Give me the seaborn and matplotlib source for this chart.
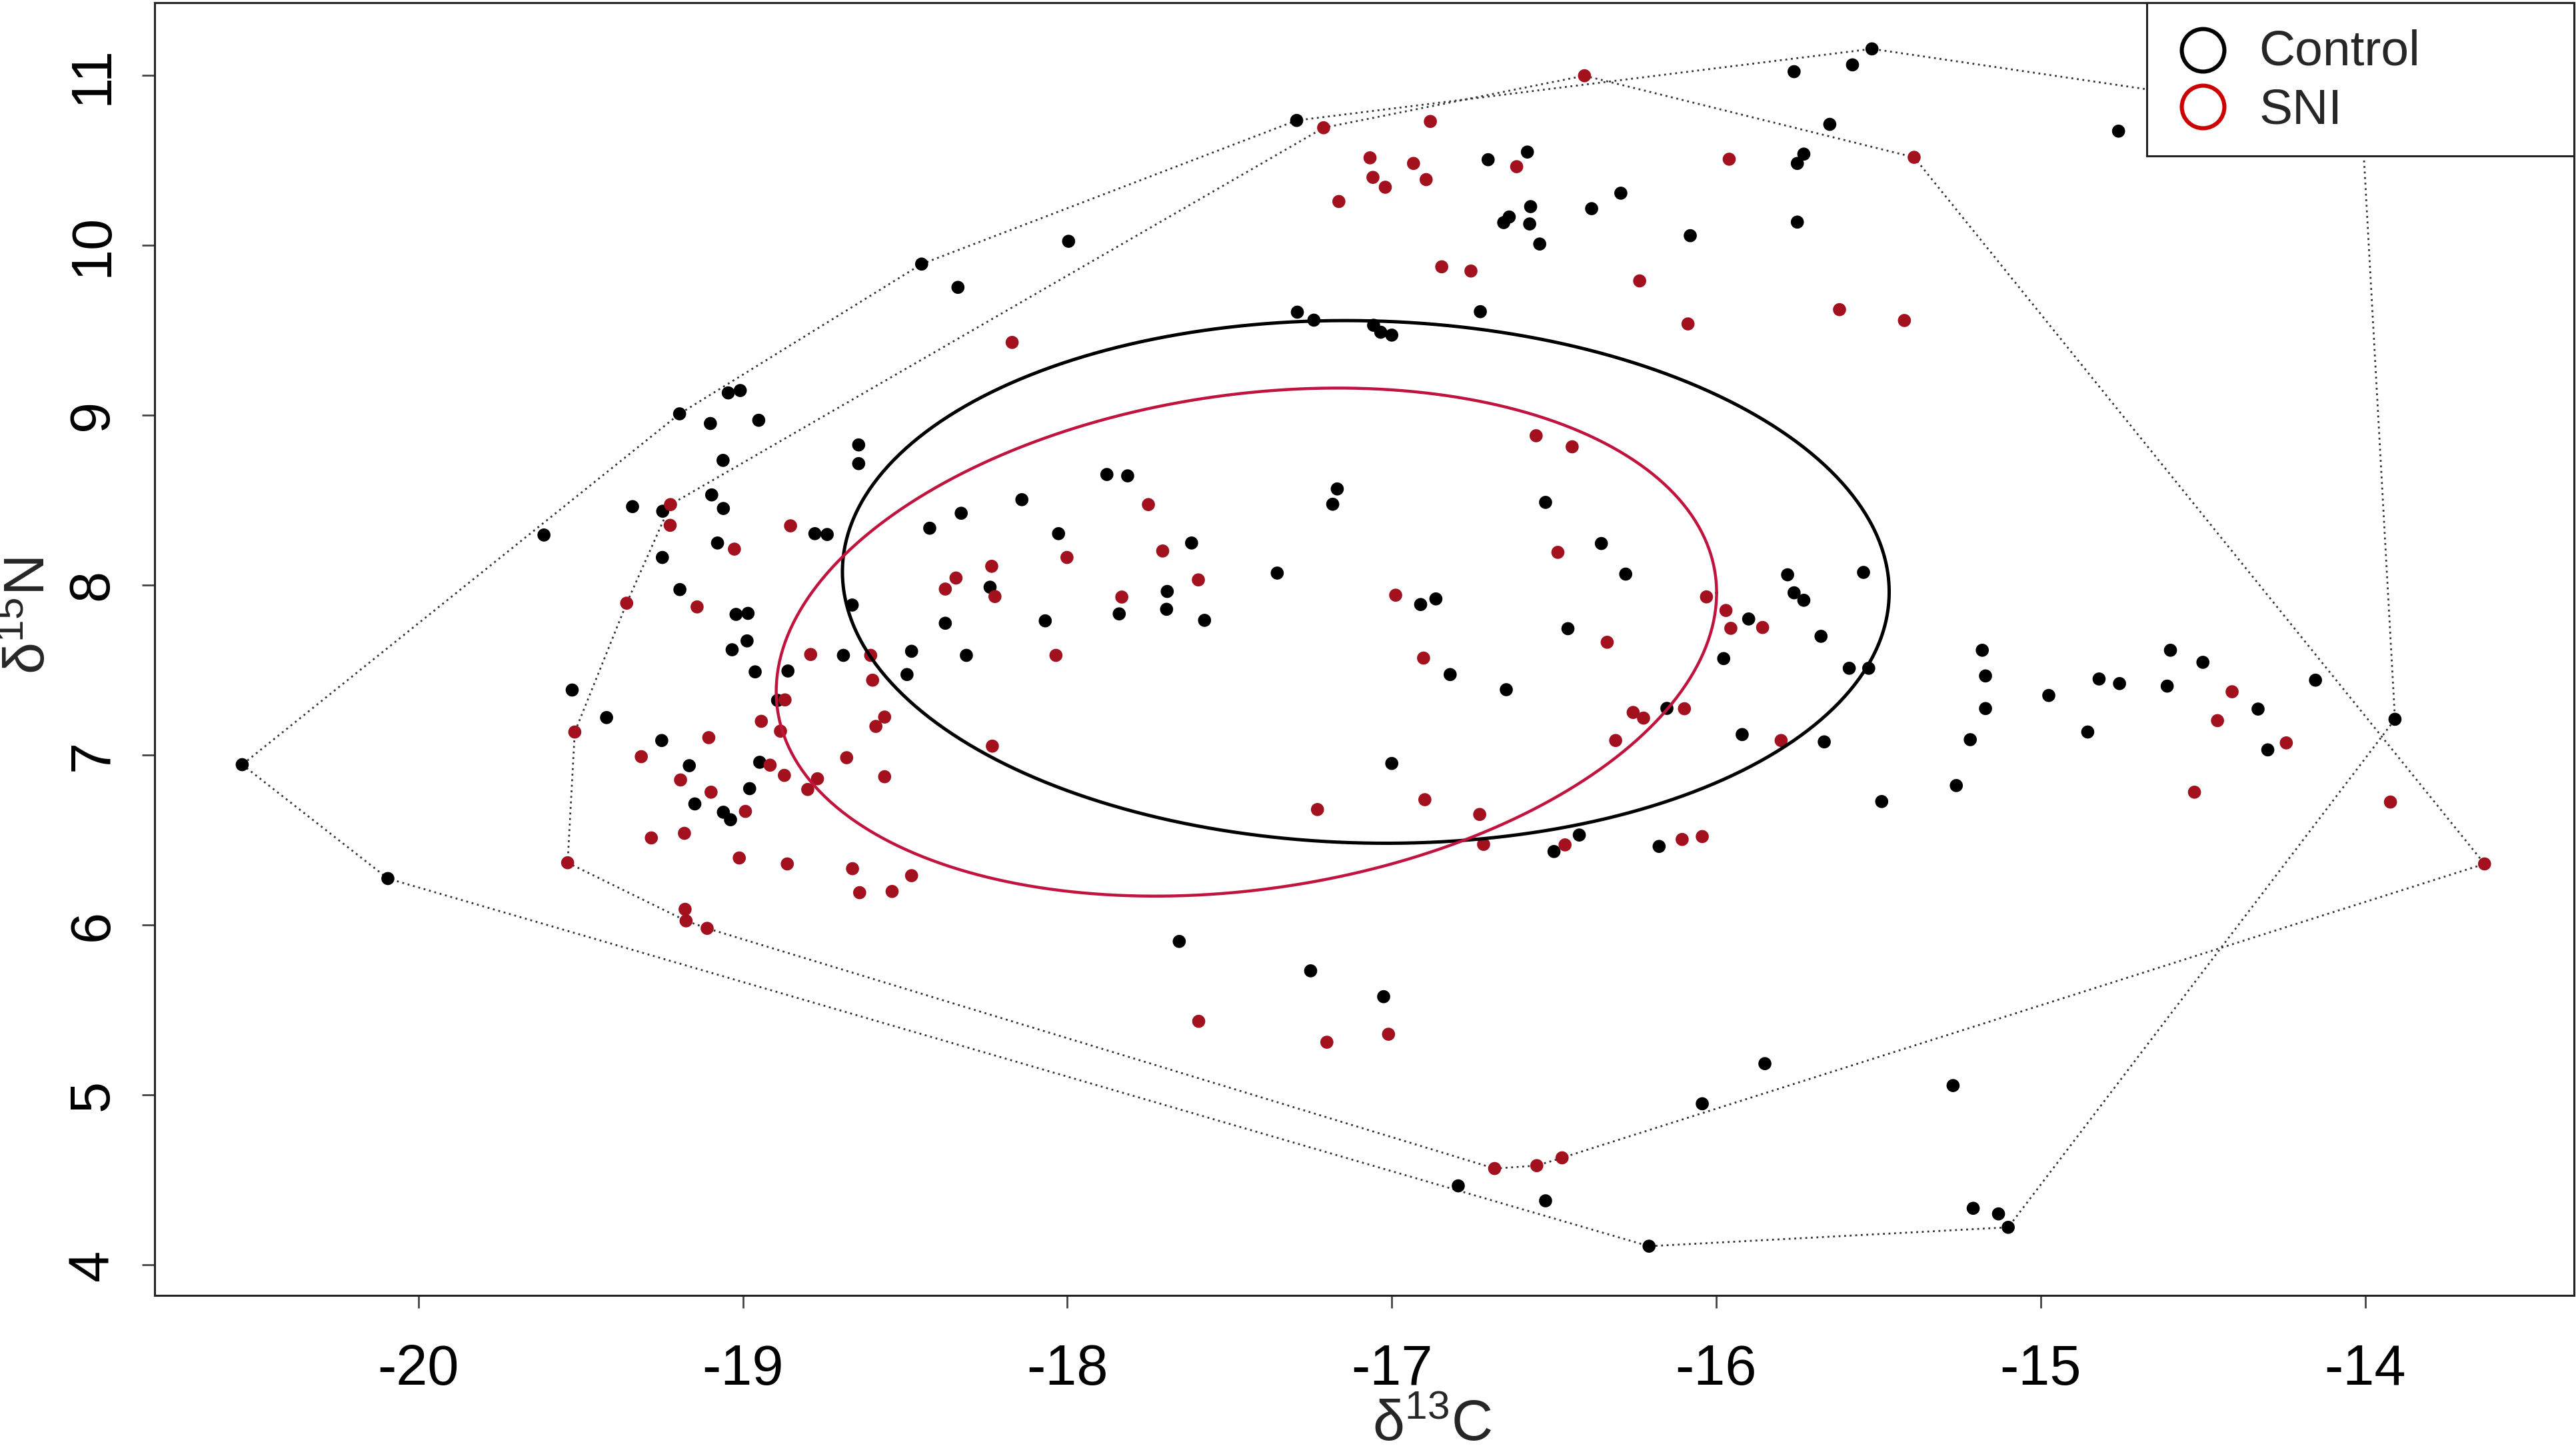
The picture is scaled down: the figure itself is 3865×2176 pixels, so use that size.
import numpy as np
import pandas as pd
import matplotlib
matplotlib.use("Agg")
import matplotlib.pyplot as plt
import seaborn as sns
from matplotlib.patches import Rectangle

# ---------------- data ----------------
control_d13C = [
    -15.52, -15.58, -15.76, -15.65, -15.73, -15.75, -15.75, -14.76, -15.546, -15.78,
    -15.76, -15.73, -15.90, -15.677, -15.977, -15.59, -15.53, -15.18, -15.17, -15.17,
    -14.975, -14.82, -14.757, -14.60, -14.61, -14.50, -14.153, -14.33, -13.908, -14.30,
    -14.855, -15.217, -15.26, -15.49, -15.667, -15.92, -15.85, -15.27, -16.043, -15.208,
    -15.13, -15.10, -18.494, -16.82, -16.647, -16.152, -17.0, -16.422, -16.5, -16.176,
    -17.655, -17.25, -17.025, -16.795, -16.526, -16.207, -20.543, -20.094, -19.526, -19.42,
    -19.25, -19.165, -19.148, -19.06, -19.038, -18.979, -18.948, -18.893, -18.962, -18.861,
    -19.613, -19.195, -19.045, -19.008, -19.10, -18.951, -19.061, -19.096, -19.06, -19.34,
    -19.247, -19.078, -19.248, -18.778, -18.74, -18.643, -18.643, -19.194, -19.021, -18.984,
    -18.987, -19.033, -18.69, -18.663, -17.293, -16.703, -16.582, -16.294, -16.572, -16.384,
    -16.638, -16.655, -16.575, -16.544, -16.08, -17.996, -18.449, -18.337, -16.727, -17.291,
    -17.24, -17.056, -17.034, -17.0, -17.878, -17.814, -17.168, -17.182, -18.14, -18.327,
    -18.424, -18.027, -17.617, -18.238, -17.692, -17.694, -17.84, -17.577, -18.068, -18.376,
    -17.353, -16.911, -16.864, -16.526, -16.354, -16.279, -16.457, -18.48, -18.311, -14.01,
]
control_d15N = [
    11.154, 11.06, 11.02, 10.71, 10.535, 10.48, 10.135, 10.67, 8.074, 8.06,
    7.954, 7.91, 7.80, 7.698, 7.567, 7.51, 7.51, 7.616, 7.465, 7.273,
    7.35, 7.447, 7.42, 7.616, 7.405, 7.545, 7.44, 7.27, 7.21, 7.03,
    7.135, 7.09, 6.82, 6.726, 7.077, 7.12, 5.184, 5.055, 4.948, 4.333,
    4.30, 4.221, 7.473, 7.473, 7.384, 7.274, 6.95, 6.529, 6.432, 6.462,
    5.903, 5.73, 5.578, 4.465, 4.377, 4.11, 6.943, 6.273, 7.382, 7.22,
    7.085, 6.937, 6.712, 6.663, 6.619, 6.802, 6.957, 7.321, 7.489, 7.494,
    8.294, 9.007, 9.13, 9.144, 8.95, 8.969, 8.733, 8.53, 8.45, 8.461,
    8.434, 8.247, 8.162, 8.302, 8.297, 8.824, 8.714, 7.973, 7.827, 7.833,
    7.671, 7.619, 7.586, 7.882, 10.733, 10.502, 10.547, 10.305, 10.226, 10.214,
    10.165, 10.132, 10.124, 10.006, 10.055, 10.022, 9.888, 9.751, 9.608, 9.605,
    9.558, 9.528, 9.487, 9.47, 8.65, 8.642, 8.565, 8.475, 8.502, 8.422,
    8.334, 8.302, 8.247, 7.987, 7.962, 7.857, 7.83, 7.792, 7.789, 7.775,
    8.07, 7.885, 7.918, 8.486, 8.244, 8.064, 7.743, 7.61, 7.586, 10.73,
]
sni_d13C = [
    -15.96, -15.39, -15.62, -15.42, -16.03, -15.97, -15.955, -15.857, -14.41, -14.455,
    -14.243, -14.526, -13.922, -13.632, -15.80, -16.043, -18.60, -18.563, -18.59, -18.68,
    -18.563, -18.231, -18.662, -18.64, -18.54, -18.48, -16.256, -16.224, -16.098, -16.31,
    -16.898, -16.729, -17.229, -16.717, -16.466, -16.105, -17.595, -17.20, -17.01, -16.683,
    -16.553, -16.475, -19.518, -19.54, -19.313, -19.105, -19.192, -19.098, -18.992, -18.916,
    -18.872, -18.80, -18.77, -18.884, -18.943, -18.87, -19.282, -19.18, -19.011, -18.863,
    -19.178, -19.175, -19.11, -19.223, -19.224, -19.026, -18.853, -19.358, -19.141, -18.791,
    -16.406, -17.21, -16.881, -16.615, -17.067, -16.933, -17.058, -16.894, -17.02, -17.163,
    -16.846, -16.756, -16.236, -16.087, -18.17, -17.75, -18.001, -17.706, -18.233, -18.343,
    -18.376, -18.223, -17.596, -17.832, -16.988, -16.555, -16.444, -16.488, -16.336, -16.902,
    -18.606, -18.035,
]
sni_d15N = [
    10.505, 10.516, 9.62, 9.556, 7.93, 7.85, 7.745, 7.75, 7.372, 7.202,
    7.071, 6.781, 6.723, 6.359, 7.085, 6.52, 7.44, 7.223, 7.168, 6.984,
    6.872, 7.052, 6.331, 6.19, 6.197, 6.29, 7.25, 7.217, 7.272, 7.085,
    6.737, 6.65, 6.679, 6.474, 6.471, 6.503, 5.433, 5.31, 5.357, 4.567,
    4.584, 4.63, 7.135, 6.366, 6.99, 7.102, 6.853, 6.781, 6.668, 6.94,
    6.88, 6.797, 6.86, 7.14, 7.198, 7.324, 6.512, 6.539, 6.394, 6.359,
    6.092, 6.024, 5.98, 8.473, 8.351, 8.211, 8.348, 7.893, 7.871, 7.591,
    10.996, 10.69, 10.727, 10.461, 10.513, 10.48, 10.398, 10.385, 10.34, 10.256,
    9.872, 9.847, 9.789, 9.536, 9.427, 8.473, 8.162, 8.2, 8.11, 8.041,
    7.976, 7.932, 8.03, 7.929, 7.94, 8.878, 8.813, 8.192, 7.663, 7.57,
    7.586, 7.586,
]
groups = ["Control", "SNI"]
# standard ellipses: centre and covariance matrix (a, c, b)
ellipse_centre = {"Control": (-17.08, 8.018), "SNI": (-17.448, 7.664)}
ellipse_cov = {"Control": (2.602, -0.096, 2.364), "SNI": (2.10, 0.42, 2.2335)}
x_ticks = [-20, -19, -18, -17, -16, -15, -14]
y_ticks = [4, 5, 6, 7, 8, 9, 10, 11]

point_colors = {"Control": "#000000", "SNI": "#A3111F"}
ellipse_colors = {"Control": "#000000", "SNI": "#C0143E"}
ellipse_lw = {"Control": 1.8, "SNI": 1.6}
legend_colors = {"Control": "#000000", "SNI": "#CC0000"}

df = pd.concat([
    pd.DataFrame({"d13C": control_d13C, "d15N": control_d15N, "group": "Control"}),
    pd.DataFrame({"d13C": sni_d13C, "d15N": sni_d15N, "group": "SNI"}),
], ignore_index=True)

# ---------------- style ----------------
sns.set_style("ticks")
plt.rcParams["font.family"] = ["Liberation Sans", "DejaVu Sans"]
plt.rcParams["mathtext.fontset"] = "custom"
plt.rcParams["mathtext.rm"] = "Liberation Sans"
plt.rcParams["mathtext.it"] = "Liberation Sans"

fig = plt.figure(figsize=(19.33, 10.88), dpi=200)
ax = fig.add_axes([0.0600, 0.1068, 0.9390, 0.8915])


def convex_hull(xs, ys):
    pts = sorted(set(zip(xs, ys)))

    def cross(o, a, b):
        return (a[0] - o[0]) * (b[1] - o[1]) - (a[1] - o[1]) * (b[0] - o[0])

    lower = []
    for p in pts:
        while len(lower) >= 2 and cross(lower[-2], lower[-1], p) <= 0:
            lower.pop()
        lower.append(p)
    upper = []
    for p in reversed(pts):
        while len(upper) >= 2 and cross(upper[-2], upper[-1], p) <= 0:
            upper.pop()
        upper.append(p)
    hull = lower[:-1] + upper[:-1]
    hull.append(hull[0])
    return np.array(hull)


# points
sns.scatterplot(data=df, x="d13C", y="d15N", hue="group", palette=point_colors,
                s=50, linewidth=0, legend=False, ax=ax, zorder=3)

# convex hulls
for g in groups:
    sub = df[df["group"] == g]
    h = convex_hull(sub["d13C"].tolist(), sub["d15N"].tolist())
    ax.plot(h[:, 0], h[:, 1], linestyle=(0, (1, 2.0)), color="#333333", lw=1.0, zorder=2)

# standard ellipses
t = np.linspace(0, 2 * np.pi, 500)
for g in groups:
    a, c, b = ellipse_cov[g]
    S = np.array([[a, c], [c, b]])
    L = np.linalg.cholesky(S)
    e = np.array(ellipse_centre[g])[:, None] + L @ np.vstack([np.cos(t), np.sin(t)])
    ax.plot(e[0], e[1], color=ellipse_colors[g], lw=ellipse_lw[g], zorder=4)

# axes
ax.set_xlim(-20.813, -13.356)
ax.set_ylim(3.822, 11.427)
ax.set_xticks(x_ticks)
ax.set_yticks(y_ticks)
ax.set_xticklabels([str(v) for v in x_ticks])
ax.set_yticklabels([str(v) for v in y_ticks])
for sp in ax.spines.values():
    sp.set_visible(True)
    sp.set_color("#222222")
    sp.set_linewidth(1.1)
ax.tick_params(axis="both", direction="out", length=6.9, width=1.0, color="#444444",
               labelsize=30.5, labelcolor="black")
ax.tick_params(axis="x", pad=19)
ax.tick_params(axis="y", pad=12)
for lab in ax.get_yticklabels():
    lab.set_rotation(90)
    lab.set_va("center")

ax.set_xlabel(r"$\mathregular{\delta^{13}C}$", fontsize=31, va="baseline")
ax.xaxis.set_label_coords(0.528, -0.1125)
ax.set_ylabel(r"$\mathregular{\delta^{15}N}$", fontsize=31, va="baseline")
ax.yaxis.set_label_coords(-0.0455, 0.5255)

# legend box (drawn over the data, like R's legend())
ax.add_patch(Rectangle((0.8234, 0.8812), 1.0 - 0.8234, 1.0 - 0.8812, transform=ax.transAxes,
                       facecolor="white", edgecolor="#222222", lw=1.1, zorder=10, clip_on=False))
leg_marker_y = [0.9631, 0.9193]
leg_text_y = [0.9518, 0.9064]
for g, my, ty in zip(groups, leg_marker_y, leg_text_y):
    ax.plot([0.8466], [my], marker="o", ms=23, mfc="none", mec=legend_colors[g], mew=2.2,
            transform=ax.transAxes, zorder=11, clip_on=False, linestyle="none")
    ax.text(0.8697, ty, g, transform=ax.transAxes, fontsize=27, va="baseline", ha="left",
            zorder=11)

fig.savefig("out.png", dpi=200)
